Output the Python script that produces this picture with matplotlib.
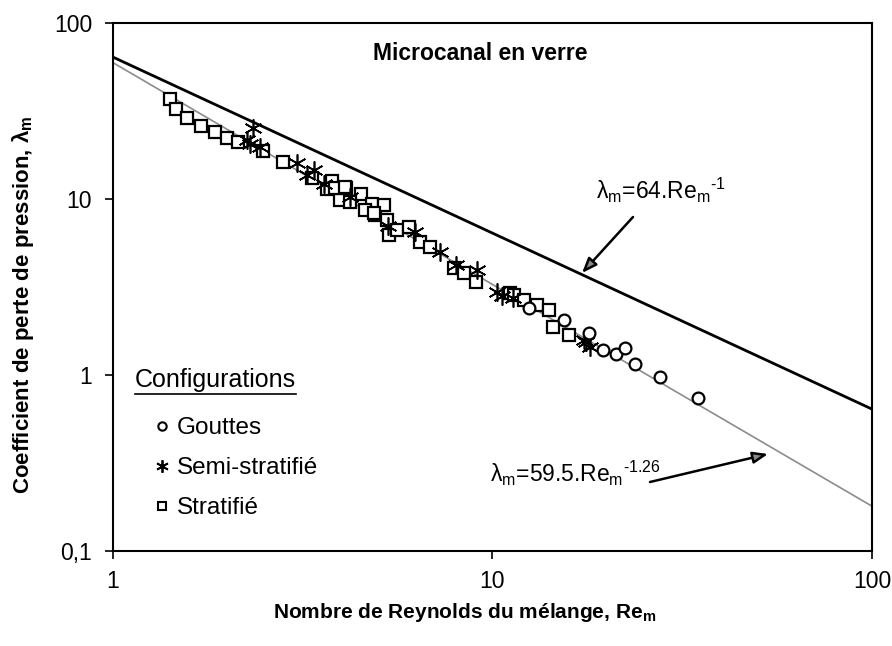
import numpy as np
import matplotlib
matplotlib.use("Agg")
import matplotlib.pyplot as plt
from matplotlib.lines import Line2D
from matplotlib.ticker import FixedLocator, NullLocator

plt.rcParams['font.family'] = ['Liberation Sans', 'DejaVu Sans']

# measured points, Re_m vs lambda_m
gouttes_re = [12.5, 15.4, 18.0, 19.6, 21.2, 22.4, 23.7, 27.6, 34.7]
gouttes_lam = [2.39, 2.05, 1.74, 1.39, 1.32, 1.43, 1.16, 0.97, 0.745]

semi_re = [2.34, 2.25, 2.44, 2.30, 3.05, 3.38, 3.24, 3.6, 4.2, 5.32, 6.26,
           7.29, 7.99, 9.11, 10.3, 10.6, 11.3, 17.4, 17.6, 18.1]
semi_lam = [25.2, 21.6, 19.8, 20.6, 16.0, 14.6, 13.7, 12.1, 10.3, 7.03, 6.52,
            5.02, 4.22, 3.95, 2.97, 2.80, 2.75, 1.58, 1.55, 1.45]

strat_re = [1.41, 1.47, 1.57, 1.71, 1.86, 2.0, 2.14, 2.49, 2.80, 3.34, 3.78,
            4.11, 4.49, 4.82, 4.91, 3.66, 3.97, 4.62, 3.85, 4.09, 4.22, 5.17,
            4.86, 5.28, 5.33, 5.60, 6.02, 6.46, 6.86, 7.91, 8.40, 9.02, 11.15,
            11.4, 12.1, 13.1, 14.1, 14.4, 15.9]
strat_lam = [37.0, 32.6, 28.7, 25.9, 24.0, 22.1, 21.1, 18.8, 16.2, 13.2, 12.7,
             11.5, 10.7, 9.37, 8.11, 11.4, 9.87, 8.66, 11.5, 11.7, 9.65, 9.25,
             8.29, 7.60, 6.24, 6.67, 6.96, 5.72, 5.36, 4.04, 3.78, 3.39, 2.91,
             2.86, 2.67, 2.50, 2.34, 1.88, 1.69]

# correlations
re_line = np.array([1.0, 100.0])
lam_laminar = 64.0 * re_line ** -1
lam_fit = 59.5 * re_line ** -1.26

fig = plt.figure(figsize=(8.92, 6.46), dpi=100)
ax = fig.add_axes([113 / 892, 1 - 551 / 646, 759 / 892, 528 / 646])

ax.plot(re_line, lam_laminar, color='black', lw=2.0, zorder=2)
ax.plot(re_line, lam_fit, color='#8c8c8c', lw=1.2, zorder=2)

ax.plot(strat_re, strat_lam, ls='none', marker='s', ms=8.5, mfc='white',
        mec='black', mew=1.6, zorder=3)
ax.plot(semi_re, semi_lam, ls='none', marker=(6, 2, 0), ms=13, mec='black',
        mew=1.2, zorder=4)
ax.plot(gouttes_re, gouttes_lam, ls='none', marker='o', ms=8.5, mfc='white',
        mec='black', mew=1.6, zorder=5)

ax.set_xscale('log')
ax.set_yscale('log')
ax.set_xlim(1, 100)
ax.set_ylim(0.1, 100)

ax.xaxis.set_major_locator(FixedLocator([1, 10, 100]))
ax.yaxis.set_major_locator(FixedLocator([0.1, 1, 10, 100]))
ax.xaxis.set_minor_locator(NullLocator())
ax.yaxis.set_minor_locator(NullLocator())
ax.set_xticklabels(['1', '10', '100'])
ax.set_yticklabels(['0,1', '1', '10', '100'])
ax.tick_params(axis='both', direction='out', length=6, width=1.2,
               labelsize=16.5, pad=9)
ax.tick_params(axis='x', pad=8)
for s in ax.spines.values():
    s.set_linewidth(1.5)

fig.text(465 / 892, 1 - 612 / 646,
         'Nombre de Reynolds du mélange, Re$_\\mathregular{m}$',
         ha='center', va='center', fontsize=15, fontweight='bold')
fig.text(23 / 892, 1 - 305 / 646,
         'Coefficient de perte de pression, λ$_\\mathregular{m}$',
         ha='center', va='center', rotation=90, fontsize=16,
         fontweight='bold')

fig.text(480 / 892, 1 - 53 / 646, 'Microcanal en verre',
         ha='center', va='center', fontsize=16.5, fontweight='bold')

# annotations for the two correlations
arrow = dict(arrowstyle='-|>,head_length=0.9,head_width=0.35', color='black',
             lw=1.8, shrinkA=0, shrinkB=0)
ax.annotate('', xy=(582, 646 - 273), xycoords='figure pixels',
            xytext=(633, 646 - 217), textcoords='figure pixels',
            arrowprops=dict(arrow, fc='#888888'))
fig.text(596 / 892, 1 - 190 / 646,
         'λ$_\\mathregular{m}$=64.Re$_\\mathregular{m}$$^\\mathregular{\u20101}$',
         ha='left', va='center', fontsize=16.5)
ax.annotate('', xy=(768, 646 - 454), xycoords='figure pixels',
            xytext=(650, 646 - 482), textcoords='figure pixels',
            arrowprops=dict(arrow, fc='#888888'))
fig.text(490 / 892, 1 - 473 / 646,
         'λ$_\\mathregular{m}$=59.5.Re$_\\mathregular{m}$$^\\mathregular{\u20101.26}$',
         ha='left', va='center', fontsize=16.5)

# legend block
fig.text(135 / 892, 1 - 380 / 646, 'Configurations', ha='left',
         va='center', fontsize=18)
fig.add_artist(Line2D([135 / 892, 296 / 892], [1 - 394 / 646, 1 - 394 / 646],
                      color='black', lw=1.2))
handles = [
    Line2D([], [], ls='none', marker='o', ms=6, mfc='white', mec='black', mew=1.5),
    Line2D([], [], ls='none', marker=(6, 2, 0), ms=9, mec='black', mew=1.3),
    Line2D([], [], ls='none', marker='s', ms=6, mfc='white', mec='black', mew=1.5),
]
fig.legend(handles, ['Gouttes', 'Semi-stratifié', 'Stratifié'],
           loc='upper left', bbox_to_anchor=(155 / 892, 1 - 417 / 646),
           frameon=False, fontsize=17.5, handlelength=0.6, handletextpad=0.3,
           labelspacing=0.74, borderpad=0, borderaxespad=0)

fig.savefig('out.png', dpi=100)
